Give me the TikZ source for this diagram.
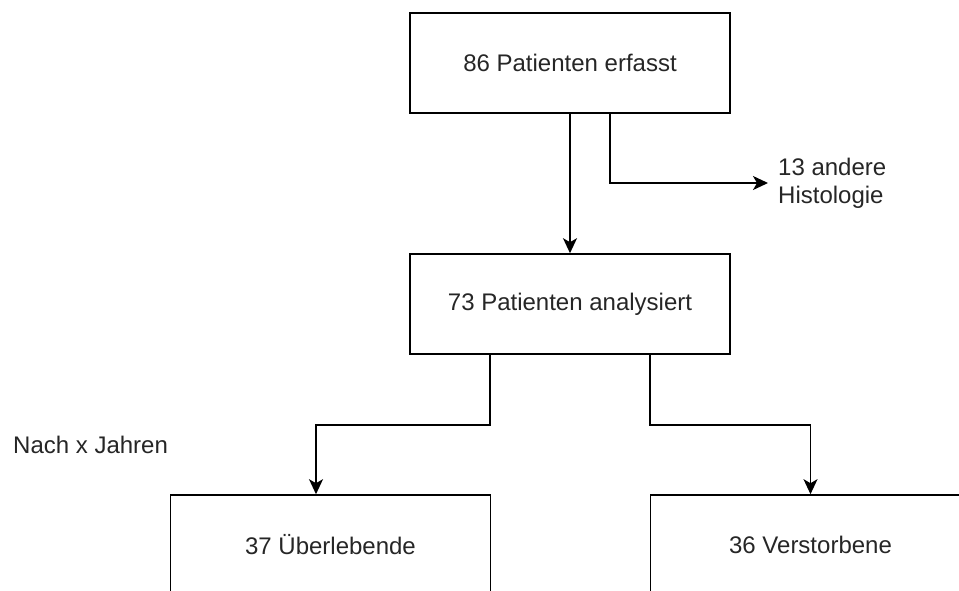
\documentclass[tikz,border=0pt]{standalone}
\usepackage{fontspec}
\setmainfont{Liberation Sans}
\usetikzlibrary{arrows.meta}
\begin{document}
\begin{tikzpicture}[x=1pt,y=-1pt,
  txt/.style={text=black!85, font=\fontsize{24}{28}\selectfont},
  box/.style={draw, line width=1.6pt, minimum width=320pt, minimum height=100pt, inner sep=0pt, txt},
  conn/.style={line width=1.6pt, -{Stealth[length=15pt,width=14pt,inset=4pt]}}]
\useasboundingbox (0,0) rectangle (959,590);
\clip (0,0) rectangle (959,590);
\node[box] (a) at (570,63) {86 Patienten erfasst};
\node[box] (b) at (570,304) {73 Patienten analysiert};
\node[box] (c) at (330.5,545) {37 Überlebende};
\node[box] (d) at (810.5,545) {36 Verstorbene};
\node[txt, anchor=west, align=left, inner xsep=10pt, inner ysep=0pt] (h) at (768,183) {13 andere\\Histologie};
\node[txt, anchor=west, inner sep=0pt] (n) at (13,445) {Nach x Jahren};
\draw[conn] (a.south) -- (b.north);
\draw[conn] ([xshift=40pt]a.south) |- (h.west);
\draw[conn] ([xshift=-80pt]b.south) -- ++(0,70) -| ([xshift=-14.5pt]c.north);
\draw[conn] ([xshift=80pt]b.south) -- ++(0,70) -| (d.north);
\end{tikzpicture}
\end{document}
